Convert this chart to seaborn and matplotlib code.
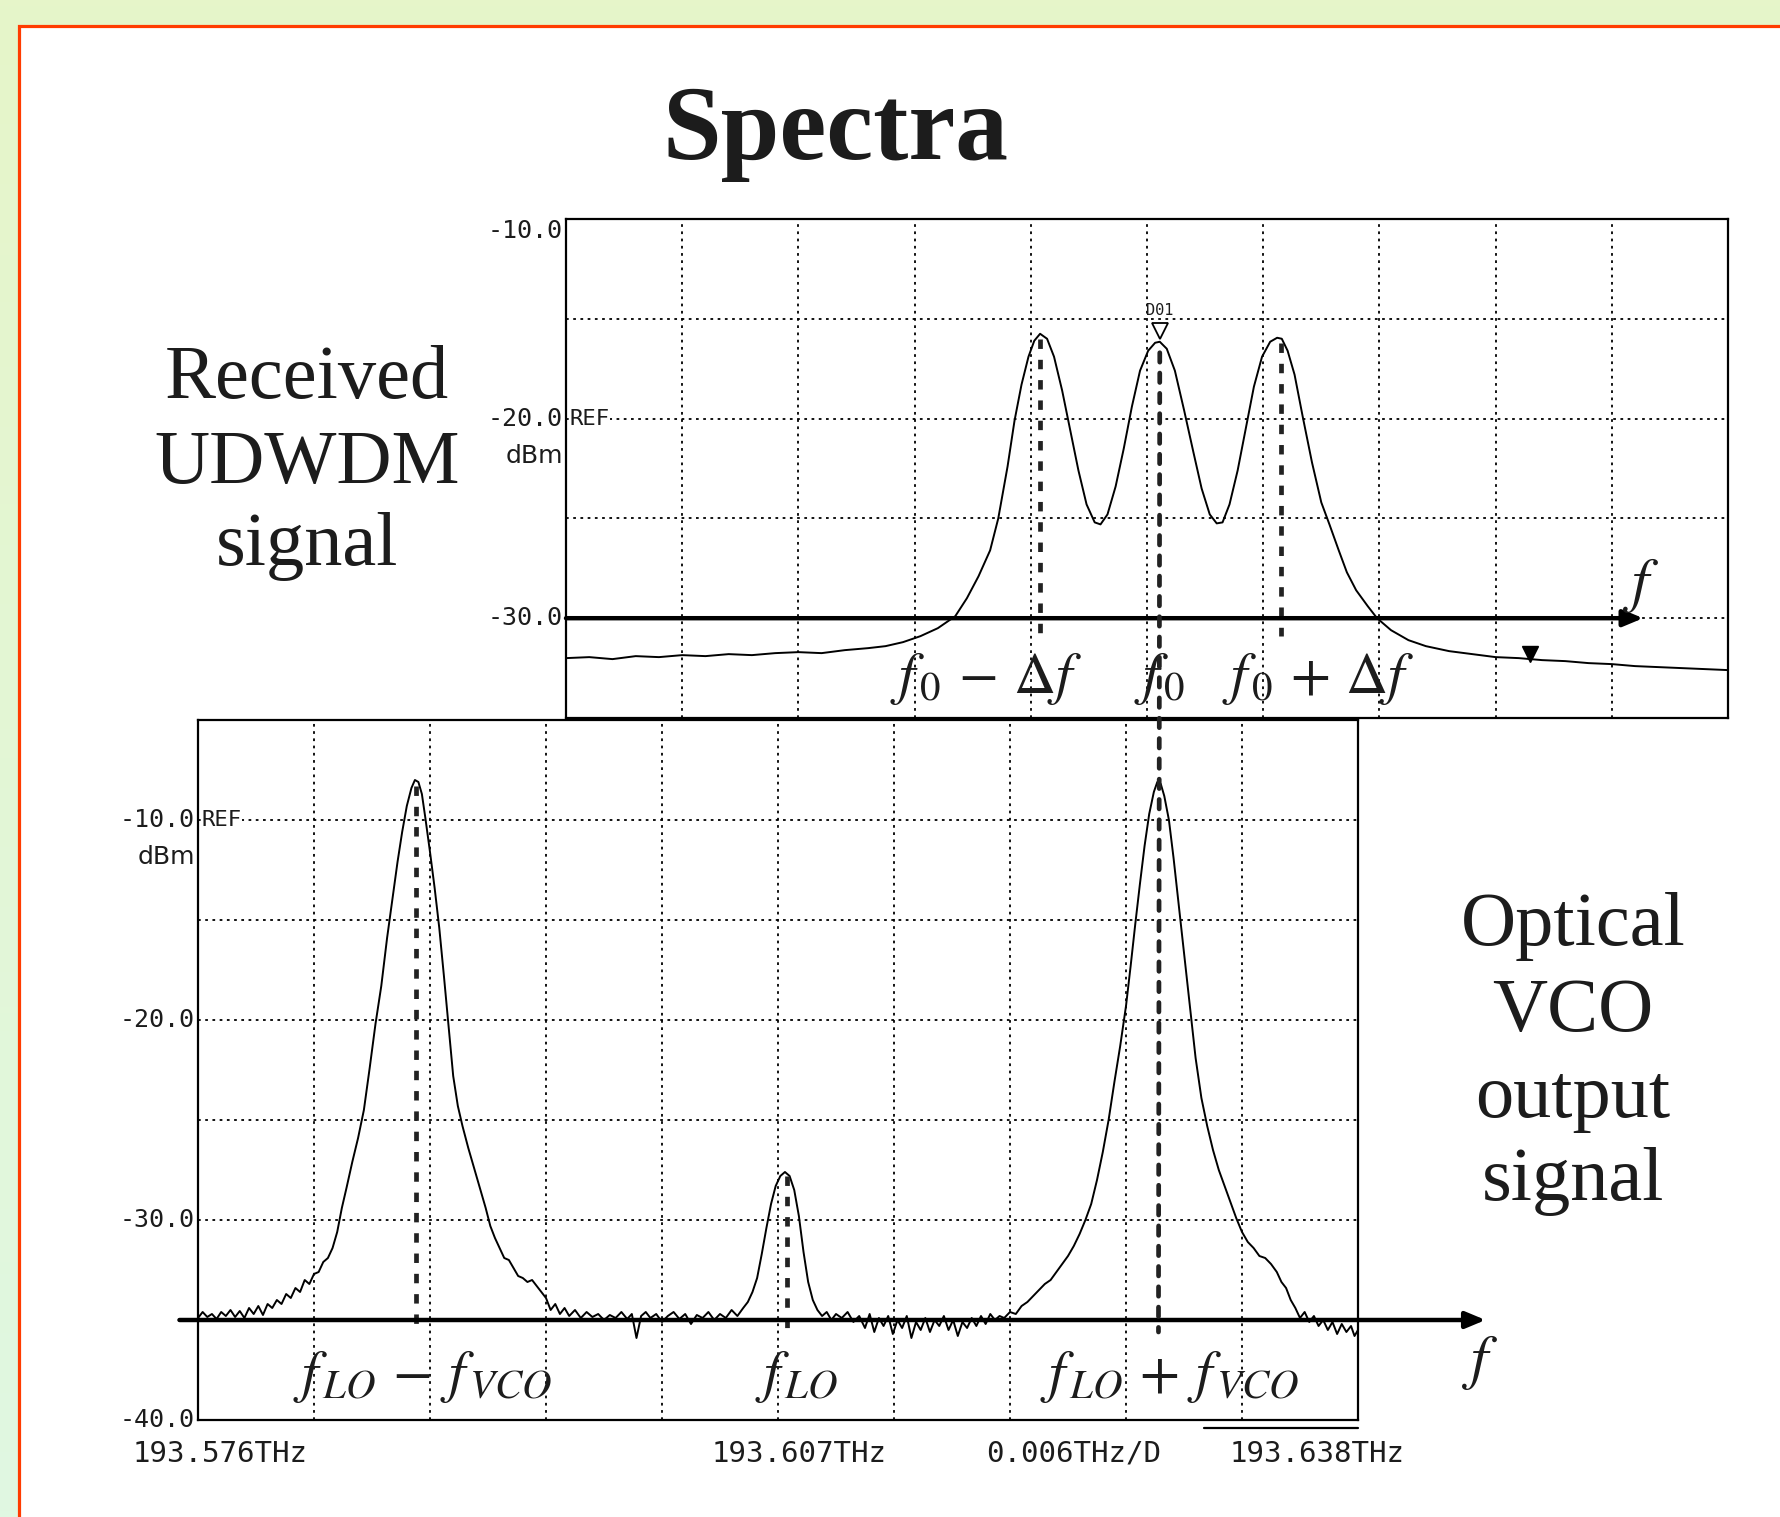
import numpy as np
import pandas as pd
import matplotlib
matplotlib.use("Agg")
import matplotlib.pyplot as plt
import matplotlib.transforms as mtransforms
from matplotlib.patches import Rectangle, ConnectionPatch
import seaborn as sns

# ---------------- data (x in screen divisions, y in dBm) ----------------
top_trace = [
    (0.0, -32.0), (0.2, -31.95), (0.4, -32.05), (0.6, -31.9), (0.8, -31.95), (1.0, -31.85),
    (1.2, -31.9), (1.4, -31.8), (1.6, -31.85), (1.8, -31.75), (2.0, -31.7), (2.2, -31.75),
    (2.4, -31.6), (2.6, -31.5), (2.75, -31.4), (2.9, -31.2), (3.05, -30.9), (3.2, -30.5),
    (3.35, -29.9), (3.45, -29.0), (3.55, -27.9), (3.65, -26.6), (3.72, -25.0), (3.8, -22.4),
    (3.86, -20.1), (3.92, -18.3), (3.98, -16.9), (4.03, -16.1), (4.08, -15.75), (4.14, -16.0),
    (4.2, -16.9), (4.27, -18.6), (4.34, -20.6), (4.41, -22.6), (4.48, -24.3), (4.55, -25.2),
    (4.6, -25.3), (4.66, -24.8), (4.73, -23.4), (4.8, -21.5), (4.87, -19.4), (4.94, -17.6),
    (5.01, -16.6), (5.07, -16.2), (5.11, -16.15), (5.17, -16.5), (5.24, -17.6), (5.32, -19.6),
    (5.4, -21.7), (5.47, -23.5), (5.54, -24.8), (5.6, -25.25), (5.65, -25.2), (5.71, -24.3),
    (5.78, -22.6), (5.85, -20.5), (5.92, -18.4), (5.99, -16.9), (6.06, -16.15), (6.12, -15.95),
    (6.16, -16.0), (6.21, -16.6), (6.27, -17.8), (6.34, -19.9), (6.42, -22.2), (6.5, -24.2),
    (6.57, -25.3), (6.65, -26.6), (6.72, -27.7), (6.8, -28.6), (6.9, -29.4), (6.98, -30.0),
    (7.1, -30.6), (7.25, -31.1), (7.4, -31.4), (7.6, -31.65), (7.8, -31.8), (8.0, -31.95),
    (8.2, -32.0), (8.4, -32.1), (8.6, -32.15), (8.8, -32.25), (9.0, -32.3), (9.2, -32.4),
    (9.4, -32.45), (9.6, -32.5), (9.8, -32.55), (10.0, -32.6),
]

bottom_trace = [
    (0.00, -34.9), (0.04, -34.6), (0.08, -34.85), (0.12, -34.7), (0.16, -34.95), (0.20, -34.6),
    (0.24, -34.8), (0.28, -34.5), (0.32, -34.85), (0.36, -34.55), (0.40, -34.9), (0.44, -34.4),
    (0.48, -34.7), (0.52, -34.3), (0.56, -34.75), (0.60, -34.2), (0.64, -34.4), (0.68, -34.0),
    (0.72, -34.2), (0.76, -33.7), (0.80, -33.9), (0.84, -33.4), (0.88, -33.6), (0.92, -33.0),
    (0.96, -33.2), (1.00, -32.7), (1.04, -32.6), (1.08, -32.1), (1.12, -31.9), (1.16, -31.4),
    (1.20, -30.6), (1.24, -29.4), (1.28, -28.4), (1.33, -27.1), (1.38, -25.9), (1.43, -24.5),
    (1.48, -22.4), (1.53, -20.2), (1.58, -18.3), (1.63, -15.9), (1.68, -13.8), (1.72, -12.1),
    (1.76, -10.6), (1.80, -9.3), (1.84, -8.4), (1.87, -8.0), (1.90, -8.1), (1.93, -8.7),
    (1.96, -9.9), (2.00, -11.6), (2.04, -13.4), (2.08, -15.4), (2.12, -17.8), (2.16, -20.3),
    (2.20, -22.8), (2.24, -24.3), (2.28, -25.3), (2.33, -26.4), (2.38, -27.4), (2.43, -28.4),
    (2.48, -29.4), (2.52, -30.3), (2.56, -30.9), (2.60, -31.4), (2.64, -31.9), (2.68, -32.0),
    (2.72, -32.4), (2.76, -32.8), (2.80, -32.9), (2.84, -33.1), (2.88, -33.0), (2.92, -33.3),
    (2.96, -33.6), (3.00, -33.9), (3.04, -34.5), (3.08, -34.2), (3.12, -34.7), (3.16, -34.4),
    (3.20, -34.8), (3.25, -34.5), (3.30, -34.9), (3.35, -34.6), (3.40, -34.85), (3.45, -34.7),
    (3.50, -35.0), (3.55, -34.75), (3.60, -34.9), (3.65, -34.6), (3.70, -34.95), (3.74, -34.7),
    (3.78, -35.9), (3.82, -34.8), (3.86, -34.6), (3.90, -34.9), (3.95, -34.7), (4.00, -35.1),
    (4.05, -34.8), (4.10, -34.6), (4.15, -34.95), (4.20, -34.7), (4.25, -35.2), (4.30, -34.75),
    (4.35, -34.9), (4.40, -34.6), (4.45, -35.0), (4.50, -34.7), (4.55, -34.9), (4.60, -34.5),
    (4.65, -34.8), (4.70, -34.4), (4.74, -34.1), (4.78, -33.6), (4.82, -32.9), (4.86, -31.7),
    (4.90, -30.4), (4.94, -29.2), (4.98, -28.3), (5.02, -27.8), (5.06, -27.6), (5.10, -27.8),
    (5.14, -28.5), (5.18, -29.8), (5.22, -31.6), (5.26, -33.1), (5.30, -34.0), (5.34, -34.5),
    (5.38, -34.8), (5.42, -34.6), (5.46, -35.0), (5.50, -34.7), (5.55, -34.9), (5.60, -34.6),
    (5.65, -35.1), (5.70, -34.8), (5.75, -35.4), (5.79, -34.7), (5.83, -35.6), (5.87, -34.9),
    (5.91, -35.3), (5.95, -34.8), (5.99, -35.7), (6.03, -35.0), (6.07, -35.4), (6.11, -34.8),
    (6.15, -35.9), (6.19, -35.1), (6.23, -35.5), (6.27, -34.9), (6.31, -35.6), (6.35, -35.0),
    (6.39, -35.3), (6.43, -34.8), (6.47, -35.5), (6.51, -35.0), (6.55, -35.8), (6.59, -35.1),
    (6.63, -35.4), (6.67, -34.9), (6.71, -35.3), (6.75, -34.8), (6.79, -35.2), (6.83, -34.7),
    (6.87, -35.0), (6.91, -34.8), (6.95, -34.9), (7.00, -34.6), (7.05, -34.7), (7.10, -34.3),
    (7.15, -34.1), (7.20, -33.8), (7.25, -33.5), (7.30, -33.2), (7.35, -33.0), (7.40, -32.6),
    (7.45, -32.2), (7.50, -31.8), (7.55, -31.3), (7.60, -30.7), (7.65, -30.0), (7.70, -29.2),
    (7.75, -28.0), (7.80, -26.6), (7.85, -25.0), (7.90, -23.1), (7.95, -21.3), (8.00, -19.3),
    (8.04, -17.3), (8.08, -15.2), (8.12, -13.2), (8.16, -11.3), (8.20, -9.7), (8.24, -8.6),
    (8.27, -8.1), (8.30, -8.2), (8.33, -8.8), (8.37, -10.0), (8.41, -11.9), (8.45, -14.0),
    (8.50, -16.6), (8.55, -19.3), (8.60, -21.9), (8.65, -23.9), (8.70, -25.3), (8.75, -26.5),
    (8.80, -27.5), (8.85, -28.3), (8.90, -29.1), (8.95, -29.9), (9.00, -30.6), (9.05, -31.1),
    (9.10, -31.4), (9.15, -31.8), (9.20, -31.9), (9.25, -32.2), (9.30, -32.6), (9.34, -33.1),
    (9.38, -33.4), (9.42, -34.0), (9.46, -34.4), (9.50, -34.9), (9.54, -34.6), (9.58, -35.1),
    (9.62, -34.8), (9.66, -35.3), (9.70, -35.0), (9.74, -35.5), (9.78, -35.1), (9.82, -35.7),
    (9.86, -35.2), (9.90, -35.6), (9.94, -35.3), (9.97, -35.8), (10.0, -35.5),
]

top_yticks = [-10, -20, -30]
top_ytick_labels = ["-10.0", "-20.0", "-30.0"]
bottom_yticks = [-10, -20, -30, -40]
bottom_ytick_labels = ["-10.0", "-20.0", "-30.0", "-40.0"]
bottom_freq_labels = ["193.576THz", "193.607THz", "0.006THz/D", "193.638THz"]

# peak markers (division, start level dBm, end level dBm)
top_peak_div = [4.08, 6.15]
top_peak_from = [-16.0, -16.2]
top_peak_to = [-30.9, -30.9]
bottom_peak_div = [1.88, 5.08]
bottom_peak_from = [-8.3, -27.8]
bottom_peak_to = [-35.6, -35.5]
link_top = (5.11, -16.7)      # f0 in upper trace
link_bottom = (8.28, -35.6)   # f_LO + f_VCO in lower trace
marker_d01 = (5.11, -15.6)
marker_fill = (8.30, -31.8)

top_df = pd.DataFrame(top_trace, columns=["div", "dBm"])
bot_df = pd.DataFrame(bottom_trace, columns=["div", "dBm"])

# ---------------- figure ----------------
sns.set_style("white")
plt.rcParams["font.family"] = ["DejaVu Sans"]
plt.rcParams["mathtext.fontset"] = "stix"
plt.rcParams["text.color"] = "#1c1c1c"

W, H = 1781, 1517
fig = plt.figure(figsize=(W / 100, H / 100), dpi=100)

# background gradient + red frame
bg = fig.add_axes([0, 0, 1, 1], zorder=-10)
c_top = np.array([230, 245, 201]) / 255
c_bot = np.array([224, 248, 226]) / 255
grad = np.linspace(0, 1, 256)[:, None, None] * (c_bot - c_top) + c_top
bg.imshow(grad, aspect="auto", extent=[0, 1, 0, 1])
bg.set_axis_off()
frame = Rectangle((18.5 / W, -0.2), 1.5, 1.2 - 25.5 / H, transform=fig.transFigure,
                  facecolor="white", edgecolor="#ff3c00", lw=2.3, zorder=-5)
fig.add_artist(frame)


def fax(x0, y0, x1, y1):
    return fig.add_axes([x0 / W, 1 - y1 / H, (x1 - x0) / W, (y1 - y0) / H])


def ftext(x, y, s, **kw):
    return fig.text(x / W, 1 - y / H, s, **kw)


ax_top = fax(566, 219, 1728, 718)
ax_bot = fax(198, 720, 1358, 1420)

grid_ls = (0, (1.5, 2.5))
mono = "DejaVu Sans Mono"
for ax, ylim in ((ax_top, (-35, -10)), (ax_bot, (-40, -5))):
    ax.set_facecolor("white")
    ax.set_xlim(0, 10)
    ax.set_ylim(*ylim)
    ax.set_xticks(np.arange(0, 11))
    ax.set_yticks(np.arange(ylim[0], ylim[1] + 1, 5))
    ax.set_xticklabels([])
    ax.set_yticklabels([])
    ax.tick_params(length=0)
    ax.grid(True, color="black", ls=grid_ls, lw=1.3)
    for sp in ax.spines.values():
        sp.set_visible(True)
        sp.set_color("black")
        sp.set_linewidth(1.6)

# traces
sns.lineplot(data=top_df, x="div", y="dBm", ax=ax_top, color="black", lw=1.4, zorder=4)
sns.lineplot(data=bot_df, x="div", y="dBm", ax=ax_bot, color="black", lw=1.4, zorder=4)
ax_top.set_xlabel(""); ax_top.set_ylabel("")
ax_bot.set_xlabel(""); ax_bot.set_ylabel("")

# y labels
for ax, ticks, labels in ((ax_top, top_yticks, top_ytick_labels),
                          (ax_bot, bottom_yticks, bottom_ytick_labels)):
    tr = mtransforms.blended_transform_factory(ax.transAxes, ax.transData)
    for t, lab in zip(ticks, labels):
        va = "top" if (ax is ax_top and t == -10) else "center"
        ax.text(-0.003, t, lab, transform=tr, ha="right", va=va, family=mono,
                fontsize=18, clip_on=False)

ref_top = -20
ref_bot = -10
for ax, ref in ((ax_top, ref_top), (ax_bot, ref_bot)):
    tr = mtransforms.blended_transform_factory(ax.transAxes, ax.transData)
    ax.text(0.003, ref, "REF", transform=tr, ha="left", va="center", family=mono,
            fontsize=16, zorder=5,
            bbox=dict(facecolor="white", edgecolor="none", pad=0.5))
    ax.annotate("dBm", xy=(0, ref), xycoords=tr, xytext=(-2, -27),
                textcoords="offset points", ha="right", va="center",
                family="DejaVu Sans", fontsize=18, annotation_clip=False)

# peak dashed lines
dash = (0, (2, 2.3))
for d, a, b in zip(top_peak_div, top_peak_from, top_peak_to):
    ax_top.plot([d, d], [a, b], color="#222222", lw=3.4, ls=dash, zorder=5, clip_on=False)
for d, a, b in zip(bottom_peak_div, bottom_peak_from, bottom_peak_to):
    ax_bot.plot([d, d], [a, b], color="#222222", lw=3.4, ls=dash, zorder=5, clip_on=False)
con = ConnectionPatch(xyA=link_top, coordsA=ax_top.transData,
                      xyB=link_bottom, coordsB=ax_bot.transData,
                      color="#222222", lw=3.4, ls=dash, zorder=6)
fig.add_artist(con)

# markers
ax_top.plot([marker_d01[0]], [marker_d01[1]], marker="v", mfc="white", mec="black",
            ms=11, mew=1.3, zorder=7)
ax_top.text(marker_d01[0], marker_d01[1] + 1.0, "D01", ha="center", va="center",
            family=mono, fontsize=11, zorder=7)
ax_top.plot([marker_fill[0]], [marker_fill[1]], marker="v", color="black", ms=11, zorder=7)

# frequency axis arrows
arrow_kw = dict(arrowstyle="-|>,head_length=0.6,head_width=0.25", lw=3.2, color="black",
                shrinkA=0, shrinkB=0, mutation_scale=20)
ax_top.annotate("", xy=(9.27, -30), xytext=(0, -30), arrowprops=arrow_kw,
                annotation_clip=False, zorder=6)
ax_bot.annotate("", xy=(11.1, -35.0), xytext=(-0.16, -35.0), arrowprops=arrow_kw,
                annotation_clip=False, zorder=6)

# lower-right double rule
ax_bot.plot([0.867, 1.0], [-0.011, -0.011], transform=ax_bot.transAxes, color="black",
            lw=1.6, clip_on=False)

# frequency labels below the lower screen
for x, s in zip([133, 712, 986, 1230], bottom_freq_labels):
    ftext(x, 1462, s, ha="left", va="baseline", family=mono, fontsize=21)

# math annotations
msize = 42
ftext(986, 693, r"$f_{\,0}\,-\,\Delta f$", ha="center", va="baseline", fontsize=msize)
ftext(1160, 693, r"$f_{\,0}$", ha="center", va="baseline", fontsize=msize)
ftext(1318, 693, r"$f_{\,0}\,+\,\Delta f$", ha="center", va="baseline", fontsize=msize)
ftext(1641, 600, r"$f$", ha="center", va="baseline", fontsize=msize + 2)
ftext(423, 1391, r"$f_{\,LO}\,-\,f_{\,VCO}$", ha="center", va="baseline", fontsize=msize)
ftext(797, 1391, r"$f_{\,LO}$", ha="center", va="baseline", fontsize=msize)
ftext(1170, 1391, r"$f_{\,LO}\,+\,f_{\,VCO}$", ha="center", va="baseline", fontsize=msize)
ftext(1480, 1377, r"$f$", ha="center", va="baseline", fontsize=msize + 2)

# titles / side labels
serif = "Liberation Serif"
ftext(835, 159, "Spectra", ha="center", va="baseline", family=serif, fontsize=76,
      fontweight="bold")
for y, s in zip([398, 483, 565], ["Received", "UDWDM", "signal"]):
    ftext(307, y, s, ha="center", va="baseline", family=serif, fontsize=55)
for y, s in zip([945, 1031, 1117, 1200], ["Optical", "VCO", "output", "signal"]):
    ftext(1573, y, s, ha="center", va="baseline", family=serif, fontsize=55)

fig.savefig("out.png", dpi=100)
